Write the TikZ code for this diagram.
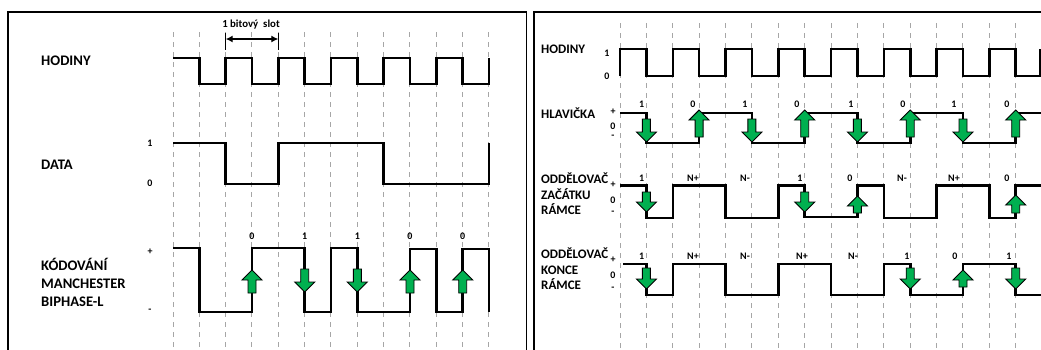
\documentclass[tikz,border=0pt]{standalone}
\usepackage{fontspec}
\setmainfont{Carlito}
\usetikzlibrary{arrows.meta}
\definecolor{grn}{HTML}{00B050}
\definecolor{gridgray}{HTML}{A6A6A6}
\tikzset{
  wave/.style={line width=2.6pt, line join=miter, line cap=butt},
  gridline/.style={gridgray, line width=1pt, dash pattern=on 5pt off 5pt},
  garrow/.style={fill=grn, draw=black, line width=0.9pt, line join=miter},
  panel/.style={line width=1.3pt},
  bigL/.style={font=\bfseries\fontsize{14.6}{18}\selectfont, align=left, inner sep=0pt, anchor=west},
  bigR/.style={font=\bfseries\fontsize{13}{15.5}\selectfont, align=left, inner sep=0pt, anchor=west},
  small/.style={font=\bfseries\fontsize{10}{11}\selectfont, inner sep=0pt},
}
\newcommand{\UpArr}[3]{\draw[garrow] (#1,#2) -- ++(10,10) -- ++(-6,0) -- (#1+4,#3) -- (#1-4,#3) -- (#1-4,#2+10) -- ++(-6,0) -- cycle;}
\newcommand{\DnArr}[3]{\draw[garrow] (#1,#3) -- ++(10,-10) -- ++(-6,0) -- (#1+4,#2) -- (#1-4,#2) -- (#1-4,#3-10) -- ++(-6,0) -- cycle;}
\begin{document}
\begin{tikzpicture}[x=1pt,y=-1pt]
\useasboundingbox (0,0) rectangle (1041,349);
\fill[white] (0,0) rectangle (1041,349);

% panels
\draw[panel] (8,355) -- (8,12) -- (526.7,12) -- (526.7,355);
\draw[panel] (534,355) -- (534,12) -- (1048,12);

% grid lines
\foreach \k in {0,...,12} \draw[gridline] ({173+26.33*\k},32) -- ({173+26.33*\k},349);
\foreach \k in {0,...,15} \draw[gridline] ({620+26.38*\k},23) -- ({620+26.38*\k},349);

% ===== LEFT PANEL =====
\node[bigL] (lhod) at (41,61) {HODINY};
\node[bigL] (ldata) at (41,165) {DATA};
\node[bigL] (lman) at (41,282) {KÓDOVÁNÍ\\MANCHESTER\\BIPHASE-L};

\node[font=\bfseries\fontsize{10.8}{12}\selectfont, inner sep=0pt] (slot) at (251,25) {1 bitový \ slot};
\coordinate (sa) at (225.7,39);
\coordinate (sb) at (278.3,39);
\draw[line width=1.2pt] (225.7,33) -- (225.7,50);
\draw[line width=1.2pt] (278.3,33) -- (278.3,50);
\draw[line width=1.2pt, {Latex[length=7pt,width=7pt]}-{Latex[length=7pt,width=7pt]}] (sa) -- (sb);

% clock
\draw[wave] (173,58) -- (199.3,58) -- (199.3,84) -- (225.7,84) -- (225.7,58) -- (252,58) -- (252,84) -- (278.3,84) -- (278.3,58) -- (304.7,58) -- (304.7,84) -- (331,84) -- (331,58) -- (357.3,58) -- (357.3,84) -- (383.7,84) -- (383.7,58) -- (410,58) -- (410,84) -- (436.3,84) -- (436.3,58) -- (462.7,58) -- (462.7,84) -- (489,84) -- (489,58);

% data
\node[small] (d1) at (150,143) {1};
\node[small] (d0) at (150,183) {0};
\draw[wave] (173,143) -- (225.7,143) -- (225.7,184) -- (278.3,184) -- (278.3,143) -- (383.7,143) -- (383.7,184) -- (489,184) -- (489,143);

% manchester
\node[small] (mp) at (150,252) {+};
\node[small] (mm) at (150,311) {-};
\node[small] (mb1) at (252,236) {0};
\node[small] (mb2) at (304.7,236) {1};
\node[small] (mb3) at (357.3,236) {1};
\node[small] (mb4) at (410,236) {0};
\node[small] (mb5) at (462.7,236) {0};
\draw[wave] (173,248) -- (199.3,248) -- (199.3,312) -- (252,312) -- (252,248) -- (304.7,248) -- (304.7,312) -- (331,312) -- (331,248) -- (357.3,248) -- (357.3,312) -- (410,312) -- (410,249) -- (436.3,249) -- (436.3,312) -- (462.7,312) -- (462.7,249) -- (489,249) -- (489,312);
\UpArr{252}{270}{293}
\DnArr{304.7}{269}{292}
\DnArr{357.3}{269}{292}
\UpArr{410}{270}{293}
\UpArr{462.7}{270}{293}

% ===== RIGHT PANEL =====
\node[bigR] (rhod) at (541,49) {HODINY};
\node[small] (c1) at (607,53) {1};
\node[small] (c0) at (607,76) {0};
\draw[wave] (620,76) -- (620,49) -- (646.4,49) -- (646.4,76) -- (672.8,76) -- (672.8,49) -- (699.1,49) -- (699.1,76) -- (725.5,76) -- (725.5,49) -- (751.9,49) -- (751.9,76) -- (778.3,76) -- (778.3,49) -- (804.7,49) -- (804.7,76) -- (831.1,76) -- (831.1,49) -- (857.4,49) -- (857.4,76) -- (883.8,76) -- (883.8,49) -- (910.2,49) -- (910.2,76) -- (936.6,76) -- (936.6,49) -- (963,49) -- (963,76) -- (989.3,76) -- (989.3,49) -- (1015.7,49) -- (1015.7,76) -- (1040,76) -- (1040,49);

% HLAVICKA
\node[bigR] (hlav) at (541,113) {HLAVIČKA};
\node[small] (hp) at (613,112) {+};
\node[small] (h0) at (613,126) {0};
\node[small] (hm) at (613,137) {-};
\node[small] (hb1) at (641.7,104) {1};
\node[small] (hb2) at (693,104) {0};
\node[small] (hb3) at (745,104) {1};
\node[small] (hb4) at (797,104) {0};
\node[small] (hb5) at (851,104) {1};
\node[small] (hb6) at (903,104) {0};
\node[small] (hb7) at (954,104) {1};
\node[small] (hb8) at (1007,104) {0};
\draw[wave] (620,113) -- (646.4,113) -- (646.4,143) -- (699.1,143) -- (699.1,113) -- (751.9,113) -- (751.9,143) -- (804.7,143) -- (804.7,113) -- (857.4,113) -- (857.4,143) -- (910.2,143) -- (910.2,113) -- (963,113) -- (963,143) -- (1015.7,143) -- (1015.7,113) -- (1045,113);
\DnArr{646.4}{119}{142}
\UpArr{699.1}{110}{137}
\DnArr{751.9}{119}{142}
\UpArr{804.7}{110}{137}
\DnArr{857.4}{119}{142}
\UpArr{910.2}{110}{137}
\DnArr{963}{119}{142}
\UpArr{1015.7}{110}{137}

% ZACATKU
\node[bigR] (zac) at (541,194) {ODDĚLOVAČ\\ZAČÁTKU\\RÁMCE};
\node[small] (zp) at (613,185) {+};
\node[small] (z0) at (613,200) {0};
\node[small] (zm) at (613,213) {-};
\node[small] (zb1) at (641.7,178) {1};
\node[small] (zb2) at (693,178) {N+};
\node[small] (zb3) at (745,178) {N-};
\node[small] (zb4) at (800,178) {1};
\node[small] (zb5) at (850,178) {0};
\node[small] (zb6) at (902,178) {N-};
\node[small] (zb7) at (954,178) {N+};
\node[small] (zb8) at (1007,178) {0};
\draw[wave] (620,185.7) -- (646.4,185.7) -- (646.4,218) -- (672.8,218) -- (672.8,185.7) -- (725.5,185.7) -- (725.5,218) -- (778.3,218) -- (778.3,185.7) -- (804.7,185.7) -- (804.7,217) -- (857.4,217) -- (857.4,185.7) -- (883.8,185.7) -- (883.8,218) -- (936.6,218) -- (936.6,185.7) -- (989.3,185.7) -- (989.3,218) -- (1015.7,218) -- (1015.7,185.7) -- (1045,185.7);
\DnArr{646.4}{192}{212}
\DnArr{804.7}{192}{212}
\UpArr{857.4}{196}{213}
\UpArr{1015.7}{195}{213}

% KONCE
\node[bigR] (kon) at (541,269) {ODDĚLOVAČ\\KONCE\\RÁMCE};
\node[small] (kp) at (613,260) {+};
\node[small] (k0) at (613,275) {0};
\node[small] (km) at (613,289) {-};
\node[small] (kb1) at (641.7,256) {1};
\node[small] (kb2) at (693,256) {N+};
\node[small] (kb3) at (745,256) {N-};
\node[small] (kb4) at (802,256) {N+};
\node[small] (kb5) at (853,256) {N-};
\node[small] (kb6) at (907,256) {1};
\node[small] (kb7) at (955,256) {0};
\node[small] (kb8) at (1009,256) {1};
\draw[wave] (623,264) -- (646.4,264) -- (646.4,295) -- (672.8,295) -- (672.8,264) -- (725.5,264) -- (725.5,295) -- (778.3,295) -- (778.3,264) -- (831.1,264) -- (831.1,295) -- (883.8,295) -- (883.8,264) -- (910.2,264) -- (910.2,295) -- (963,295) -- (963,264) -- (1015.7,264) -- (1015.7,295) -- (1045,295);
\DnArr{646.4}{268}{289}
\DnArr{910.2}{268}{289}
\UpArr{963}{270}{287}
\DnArr{1015.7}{268}{289}
\end{tikzpicture}
\end{document}
